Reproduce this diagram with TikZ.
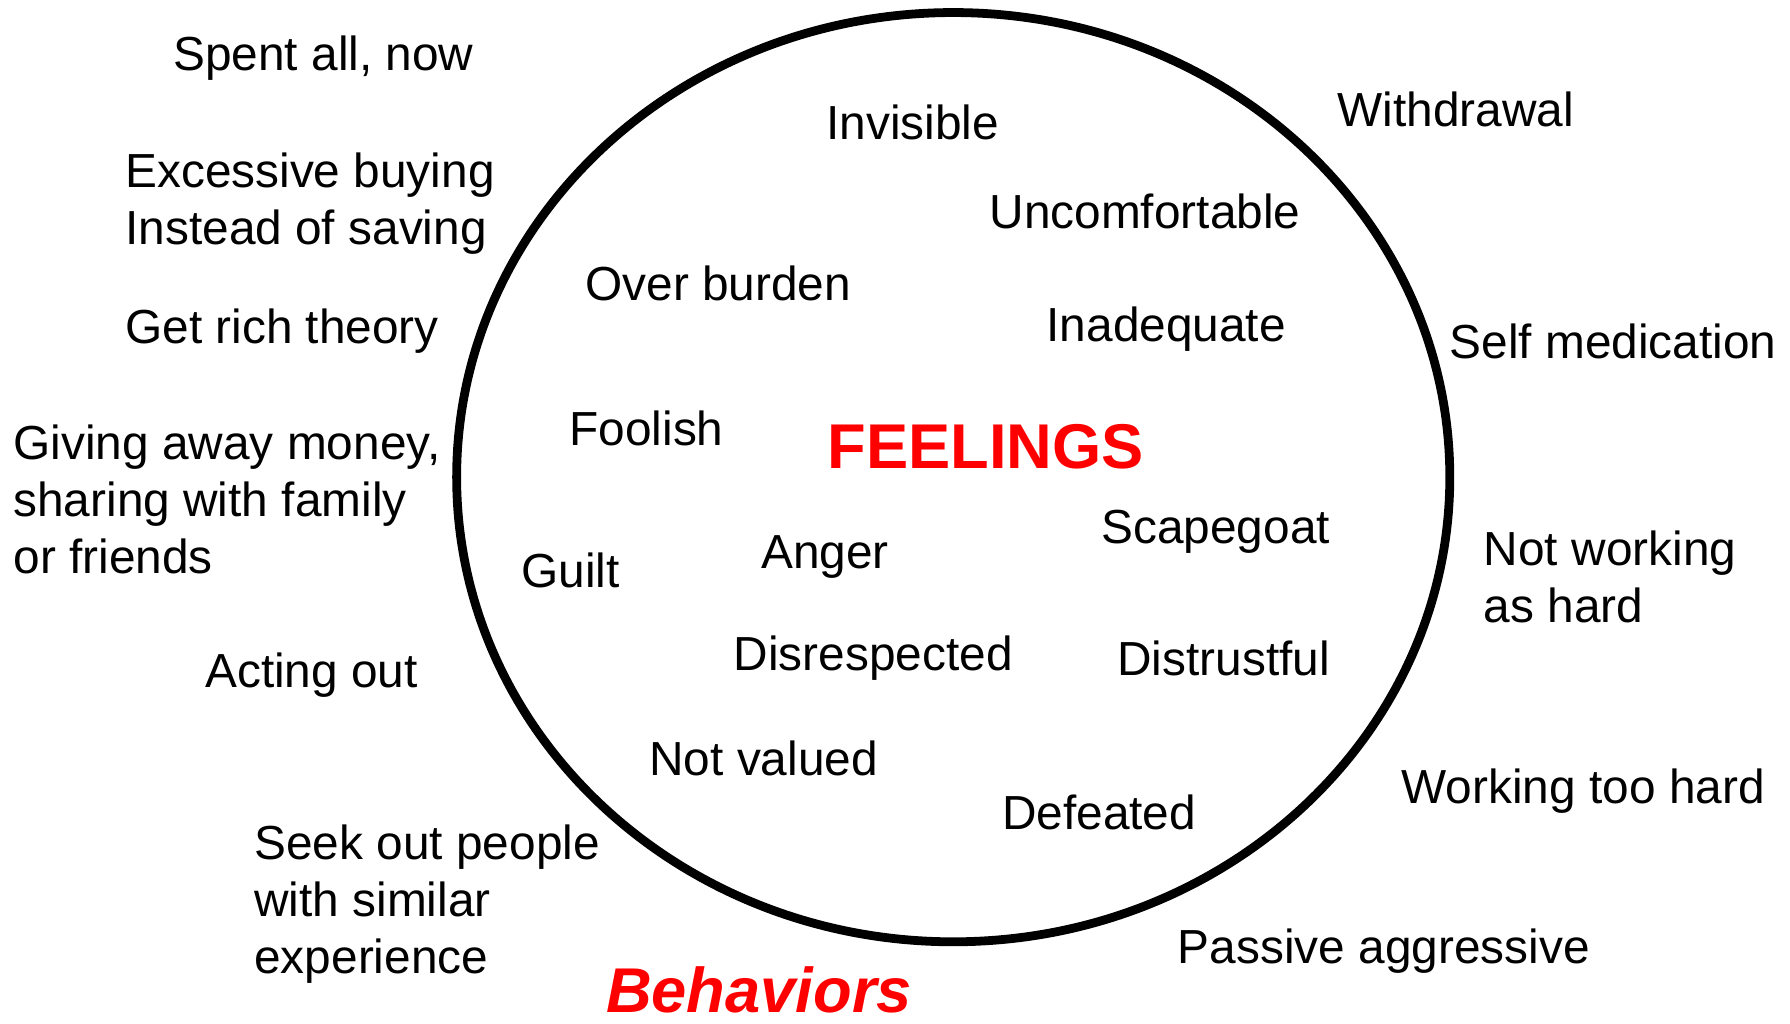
\documentclass[tikz,border=0pt]{standalone}
\usepackage{fontspec}
\setmainfont{Liberation Sans}
\definecolor{feelred}{RGB}{255,0,0}

\tikzset{
  every path/.style={line width=2.5pt},
  word/.style={anchor=base west,inner sep=0pt,font=\fontsize{13.6}{16.2}\selectfont},
  words/.style={word,align=left},
  heading/.style={anchor=base west,inner sep=0pt,text=feelred,font=\fontsize{18}{21}\selectfont\bfseries}
}

\begin{document}
\begin{tikzpicture}[x=0.11416mm,y=-0.11416mm]
    \useasboundingbox (0,0) rectangle (1568,897);
    % the circle of feelings
    \draw (835,418) ellipse [x radius=435,y radius=407];
    \node[heading] (feel) at (721,410) {FEELINGS};
    \node[heading,font=\fontsize{18}{21}\selectfont\bfseries\itshape] (behav) at (527,887) {Behaviors};
    % feelings
    \node[word] (invis)   at (720,122) {Invisible};
    \node[word] (uncomf)  at (863,200) {Uncomfortable};
    \node[word] (burden)  at (509,263) {Over burden};
    \node[word] (inadeq)  at (913,299) {Inadequate};
    \node[word] (foolish) at (495,390) {Foolish};
    \node[word] (scape)   at (961,476) {Scapegoat};
    \node[word] (anger)   at (663,498) {Anger};
    \node[word] (guilt)   at (453,515) {Guilt};
    \node[word] (disresp) at (639,587) {Disrespected};
    \node[word] (distr)   at (975,592) {Distrustful};
    \node[word] (notval)  at (565,679) {Not valued};
    \node[word] (defeat)  at (874,727) {Defeated};
    % behaviors
    \node[word]  (spent)  at (148,62)  {Spent all, now};
    \node[words] (excess) at (106,214) {Excessive buying\\Instead of saving};
    \node[word]  (rich)   at (106,301) {Get rich theory};
    \node[words] (giving) at (8,502)   {Giving away money,\\sharing with family\\or friends};
    \node[word]  (acting) at (176,602) {Acting out};
    \node[words] (seek)   at (219,853) {Seek out people\\with similar\\experience};
    \node[word]  (withdr) at (1168,111) {Withdrawal};
    \node[word]  (selfmed) at (1266,314) {Self medication};
    \node[words] (notwork) at (1296,545) {Not working\\as hard};
    \node[word]  (toohard) at (1224,704) {Working too hard};
    \node[word]  (passive) at (1028,844) {Passive aggressive};
\end{tikzpicture}
\end{document}
